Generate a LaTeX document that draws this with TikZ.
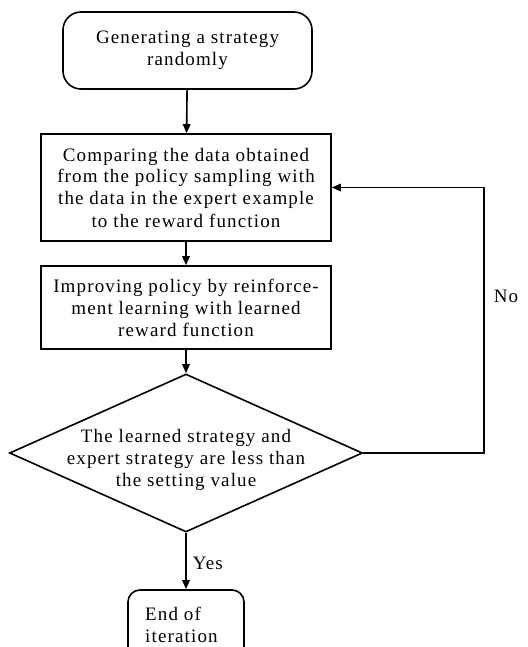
\documentclass[tikz,border=0pt]{standalone}
\usepackage{fontspec}
\setmainfont{Liberation Serif}[LetterSpace=6]
\usetikzlibrary{shapes.geometric,arrows.meta}
\begin{document}
\begin{tikzpicture}[x=1pt,y=-1pt,
  every node/.style={font=\fontsize{19}{22}\selectfont},
  box/.style={draw,line width=1.6pt,inner sep=0pt,align=center},
  conn/.style={line width=1.6pt,-{Triangle[length=9pt,width=7.5pt]}},
  lbl/.style={inner sep=0pt}]
\useasboundingbox (0,0) rectangle (527,647);
\clip (0,0) rectangle (527,647);
\node[box,rounded corners=18pt,minimum width=249pt,minimum height=77pt] (start) at (187.5,50.5) {Generating a strategy\\randomly};
\node[box,minimum width=290pt,minimum height=107pt] (cmp) at (186,187.5) {Comparing the data obtained\\from the policy sampling with\\the data in the expert example\\to the reward function};
\node[box,minimum width=290pt,minimum height=83pt] (imp) at (186,307.5) {Improving policy by reinforce-\\ment learning with learned\\reward function};
\node[draw,line width=1.6pt,diamond,inner sep=0pt,minimum width=353pt,minimum height=158pt] (dia) at (186,453) {};
\node[lbl,align=center] (diatext) at (186,460) {The learned strategy and\\expert strategy are less than\\the setting value};
\node[box,rounded corners=12pt,minimum width=116pt,minimum height=74pt,align=left] (end) at (186,627) {};
\node[lbl,align=left,anchor=north west] (endtext) at (145,607) {End of\\iteration};
\draw[conn] (start) -- (cmp);
\draw[conn] (cmp) -- (imp);
\draw[conn] (imp) -- (dia);
\draw[conn] (dia) -- node[lbl,right=6pt,pos=0.55] (yes) {Yes} (end);
\coordinate (turn) at (484,453);
\draw[conn] (dia.east) -- (turn) |- (cmp.east);
\node[lbl] (no) at (506,296) {No};
\end{tikzpicture}
\end{document}
